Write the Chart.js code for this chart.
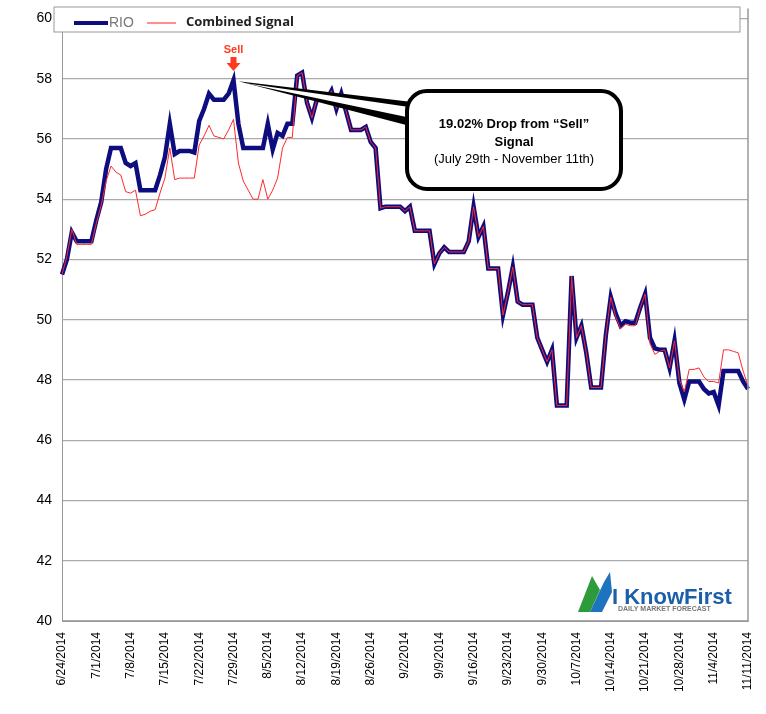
<!DOCTYPE html>
<html><head><meta charset="utf-8">
<script src="https://cdn.jsdelivr.net/npm/chart.js@4/dist/chart.umd.min.js"></script>
<style>html,body{margin:0;padding:0;background:#fff}#w{width:766px;height:714px}</style>
</head><body><div id="w"><canvas id="c"></canvas></div>
<script>
const startDate = [2014, 5, 24]; // 6/24/2014
const dayCount = 141;
const rio = [51.5,52.0,52.9,52.6,52.6,52.6,52.6,53.3,53.9,55.0,55.7,55.7,55.7,55.2,55.1,55.2,54.3,54.3,54.3,54.3,54.8,55.4,56.5,55.5,55.6,55.6,55.6,55.55,56.6,57.0,57.5,57.3,57.3,57.3,57.5,57.95,56.5,55.7,55.7,55.7,55.7,55.7,56.5,55.65,56.2,56.1,56.5,56.5,58.1,58.2,57.2,56.7,57.3,57.3,57.3,57.6,57.0,57.5,56.9,56.3,56.3,56.3,56.4,55.9,55.7,53.7,53.75,53.75,53.75,53.75,53.6,53.75,52.95,52.95,52.95,52.95,51.85,52.2,52.4,52.25,52.25,52.25,52.25,52.6,53.75,52.75,53.1,51.7,51.7,51.7,50.15,50.9,51.75,50.6,50.5,50.5,50.5,49.4,49.0,48.6,49.0,47.15,47.15,47.15,51.45,49.4,49.8,48.9,47.75,47.75,47.75,49.5,50.75,50.2,49.8,49.95,49.9,49.9,50.4,50.85,49.4,49.05,49.0,49.0,48.4,49.3,47.9,47.35,47.95,47.95,47.95,47.7,47.55,47.6,47.15,48.3,48.3,48.3,48.3,47.95,47.7];
const signal = [51.5,52.1,53.0,52.5,52.5,52.5,52.5,53.2,53.8,54.6,55.1,54.9,54.8,54.25,54.2,54.3,53.45,53.5,53.6,53.65,54.2,54.7,55.7,54.65,54.7,54.7,54.7,54.7,55.8,56.1,56.45,56.1,56.05,56.0,56.3,56.65,55.2,54.6,54.3,54.0,54.0,54.65,54.0,54.3,54.7,55.7,56.05,56.05,58.1,58.2,57.2,56.7,57.3,57.3,57.3,57.6,57.0,57.5,56.9,56.3,56.3,56.3,56.4,55.9,55.7,53.7,53.75,53.75,53.75,53.75,53.6,53.75,52.95,52.95,52.95,52.95,51.85,52.2,52.4,52.25,52.25,52.25,52.25,52.6,53.75,52.75,53.1,51.7,51.7,51.7,50.15,50.9,51.75,50.6,50.5,50.5,50.5,49.4,49.0,48.6,49.0,47.15,47.15,47.15,51.45,49.4,49.8,48.9,47.75,47.75,47.75,49.5,50.75,50.1,49.7,49.85,49.8,49.8,50.4,50.85,49.2,48.85,48.95,49.0,48.4,49.3,48.0,47.6,48.35,48.35,48.4,48.1,47.95,47.95,47.9,49.0,49.0,48.95,48.9,48.3,47.8];
const yTicks = [40,42,44,46,48,50,52,54,56,58,60];
const sellIndex = 35;
const calloutLines = ['19.02% Drop from \u201cSell\u201d','Signal','(July 29th - November 11th)'];

const labels = [];
for (let i = 0; i < dayCount; i++) {
  const d = new Date(startDate[0], startDate[1], startDate[2] + i);
  labels.push((d.getMonth()+1) + '/' + d.getDate() + '/' + d.getFullYear());
}

function rr(ctx,x,y,w,h,r){ctx.beginPath();ctx.moveTo(x+r,y);ctx.arcTo(x+w,y,x+w,y+h,r);ctx.arcTo(x+w,y+h,x,y+h,r);ctx.arcTo(x,y+h,x,y,r);ctx.arcTo(x,y,x+w,y,r);ctx.closePath();}

const deco = {
  id:'deco',
  afterDraw(chart){
    const ctx=chart.ctx, xs=chart.scales.x, ys=chart.scales.y, ca=chart.chartArea;
    ctx.save();
    // right border
    ctx.strokeStyle='#999';ctx.lineWidth=1.5;
    ctx.beginPath();ctx.moveTo(ca.right,ca.top-10);ctx.lineTo(ca.right,ca.bottom);ctx.stroke();
    // legend box
    ctx.fillStyle='#fff';ctx.fillRect(54,7,686,25);
    ctx.strokeStyle='#999';ctx.lineWidth=1;ctx.strokeRect(54,7,686,25);
    ctx.strokeStyle='#0d0d80';ctx.lineWidth=4;ctx.beginPath();ctx.moveTo(74,23);ctx.lineTo(108,23);ctx.stroke();
    ctx.fillStyle='#777';ctx.font='14px "Liberation Sans",Arial';ctx.textBaseline='middle';ctx.fillText('RIO',109,23);
    ctx.strokeStyle='#ff2020';ctx.lineWidth=1;ctx.beginPath();ctx.moveTo(147,23);ctx.lineTo(176,23);ctx.stroke();
    ctx.fillStyle='#222';ctx.font='bold 13px "Open Sans",Arial';ctx.fillText('Combined Signal',186,22);
    // sell marker
    const sx=xs.getPixelForValue(sellIndex), sy=ys.getPixelForValue(rio[sellIndex]);
    ctx.fillStyle='#ff3b1f';ctx.font='bold 11px "Liberation Sans",Arial';ctx.textAlign='center';ctx.fillText('Sell',sx,50);
    ctx.beginPath();ctx.moveTo(sx-3,57);ctx.lineTo(sx+3,57);ctx.lineTo(sx+3,63);ctx.lineTo(sx+7,63);ctx.lineTo(sx,71);ctx.lineTo(sx-7,63);ctx.lineTo(sx-3,63);ctx.closePath();ctx.fill();
    // callout pointer
    ctx.fillStyle='#000';
    ctx.beginPath();ctx.moveTo(sx+5,sy+1);ctx.lineTo(412,102);ctx.lineTo(410,126);ctx.closePath();ctx.fill();
    ctx.fillStyle='#fff';
    ctx.beginPath();ctx.moveTo(sx+12,sy+3);ctx.lineTo(416,108);ctx.lineTo(416,119);ctx.closePath();ctx.fill();
    // callout box
    rr(ctx,407,91,214,98,20);ctx.fillStyle='#fff';ctx.fill();ctx.lineWidth=4;ctx.strokeStyle='#000';ctx.stroke();
    ctx.fillStyle='#000';ctx.textAlign='center';
    ctx.font='bold 13px "Liberation Sans",Arial';ctx.fillText(calloutLines[0],514,124);ctx.fillText(calloutLines[1],514,142);
    ctx.font='13px "Liberation Sans",Arial';ctx.fillText(calloutLines[2],514,159);
    // logo
    ctx.textAlign='left';
    ctx.fillStyle='#2d9b3a';ctx.beginPath();ctx.moveTo(578,612);ctx.lineTo(592,576);ctx.lineTo(600,590);ctx.lineTo(590,612);ctx.closePath();ctx.fill();
    ctx.fillStyle='#1e73be';ctx.beginPath();ctx.moveTo(590,612);ctx.lineTo(604,582);ctx.lineTo(610,572);ctx.lineTo(612,592);ctx.lineTo(602,612);ctx.closePath();ctx.fill();
    ctx.fillStyle='#1a5fa8';ctx.font='bold 22px "Liberation Sans",Arial';ctx.fillText('I KnowFirst',612,598);
    ctx.fillStyle='#777';ctx.font='bold 7px "Liberation Sans",Arial';ctx.fillText('DAILY MARKET FORECAST',618,609);
    ctx.restore();
  }
};

new Chart(document.getElementById('c'),{
  type:'line',
  data:{labels,datasets:[
    {label:'RIO',data:rio,borderColor:'#0d0d80',borderWidth:4.5,pointRadius:0,tension:0,order:2},
    {label:'Combined Signal',data:signal,borderColor:'#ff2a2a',borderWidth:1,pointRadius:0,tension:0,order:1}
  ]},
  options:{
    responsive:true,maintainAspectRatio:false,animation:false,
    layout:{padding:{top:17,right:18,left:0,bottom:0}},
    plugins:{legend:{display:false},tooltip:{enabled:false}},
    scales:{
      x:{grid:{display:false},border:{color:'#999'},
        afterFit(s){s.height=93;},
        ticks:{autoSkip:false,maxRotation:90,minRotation:90,color:'#000',font:{size:12,family:'"Liberation Sans",Arial'},
          callback(v,i){return i%7===0?labels[i]:null;}}},
      y:{min:40,max:60,afterFit(s){s.width=62;},
        afterBuildTicks(s){s.ticks=yTicks.map(v=>({value:v}));},
        grid:{color:'#aaa',lineWidth:1.2,drawTicks:false},border:{color:'#999'},
        ticks:{color:'#000',padding:10,font:{size:14,family:'"Liberation Sans",Arial'}}}
    }
  },
  plugins:[deco]
});
</script></body></html>
